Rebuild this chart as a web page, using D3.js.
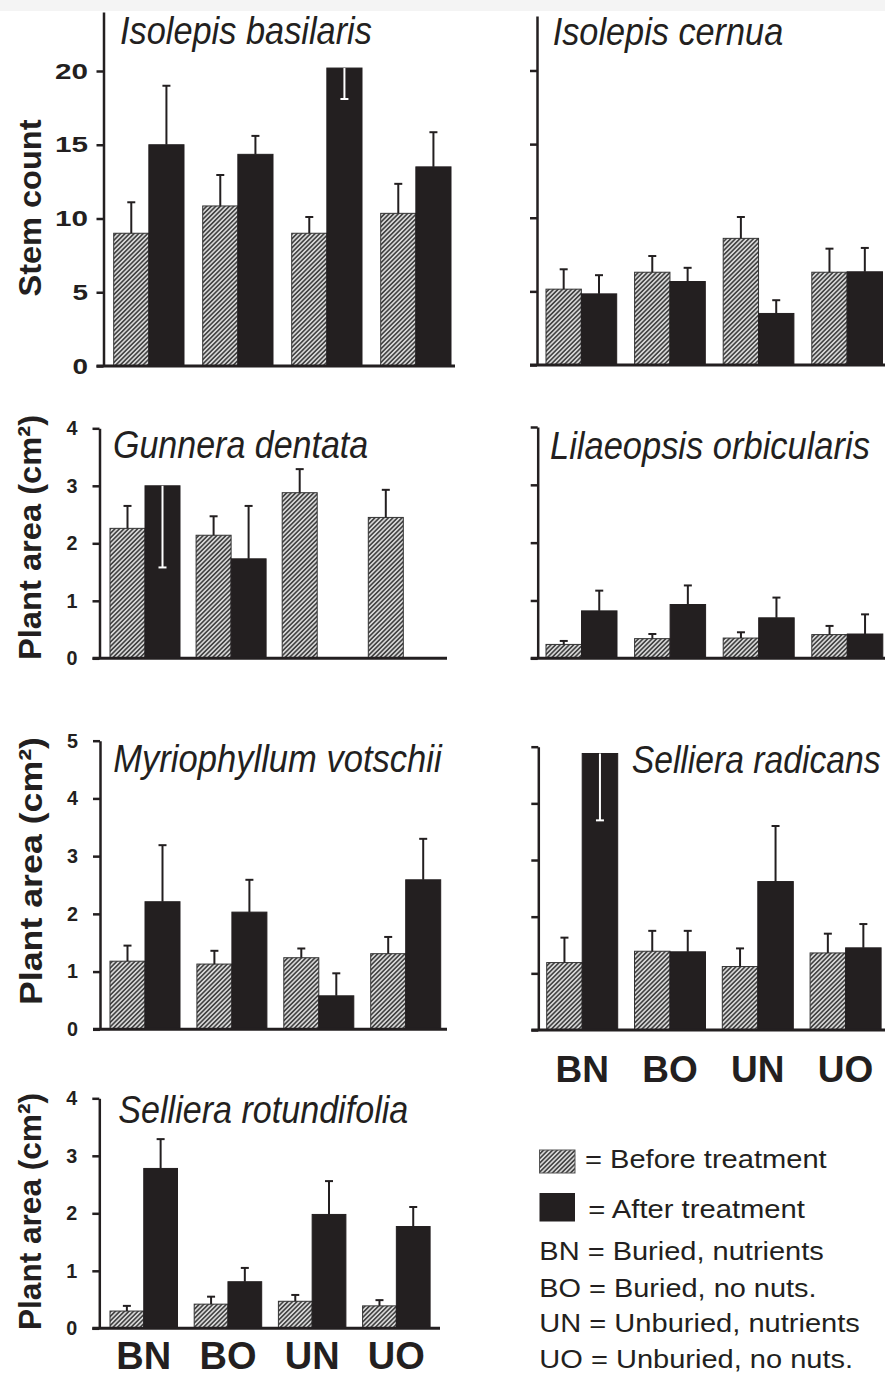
<!DOCTYPE html>
<html lang="en">
<head>
<meta charset="UTF-8">
<title>Stem count and plant area before and after treatment</title>
<script src="https://cdn.jsdelivr.net/npm/d3@7"></script>
<style>
  body { margin: 0; background: #fff; }
  svg { display: block; font-family: "Liberation Sans", Arial, sans-serif; }
</style>
</head>
<body>
<svg id="chart"></svg>
<script>
  // treatments on the x axis, two bars each
  const groups = ['BN', 'BO', 'UN', 'UO'];
  const series = ['before', 'after'];

  // means and standard errors
  const basilarisBefore   = [9.0, 10.85, 9.0, 10.35];
  const basilarisBeforeSE = [2.1, 2.1, 1.1, 2.0];
  const basilarisAfter    = [15.0, 14.35, 20.2, 13.5];
  const basilarisAfterSE  = [4.0, 1.25, 2.1, 2.35];

  const cernuaBefore   = [5.15, 6.3, 8.6, 6.3];
  const cernuaBeforeSE = [1.35, 1.1, 1.45, 1.6];
  const cernuaAfter    = [4.83, 5.67, 3.5, 6.33];
  const cernuaAfterSE  = [1.27, 0.93, 0.9, 1.62];

  const gunneraBefore   = [2.26, 2.14, 2.88, 2.45];
  const gunneraBeforeSE = [0.39, 0.33, 0.41, 0.48];
  const gunneraAfter    = [3.0, 1.73, null, null];
  const gunneraAfterSE  = [1.42, 0.92, null, null];

  const lilaeopsisBefore   = [0.24, 0.34, 0.35, 0.41];
  const lilaeopsisBeforeSE = [0.06, 0.08, 0.10, 0.15];
  const lilaeopsisAfter    = [0.82, 0.93, 0.70, 0.42];
  const lilaeopsisAfterSE  = [0.35, 0.33, 0.35, 0.34];

  const myrioBefore   = [1.18, 1.13, 1.24, 1.31];
  const myrioBeforeSE = [0.27, 0.23, 0.16, 0.29];
  const myrioAfter    = [2.21, 2.03, 0.58, 2.59];
  const myrioAfterSE  = [0.98, 0.56, 0.39, 0.71];

  const radicansBefore   = [1.19, 1.39, 1.12, 1.36];
  const radicansBeforeSE = [0.44, 0.36, 0.32, 0.34];
  const radicansAfter    = [4.88, 1.38, 2.62, 1.45];
  const radicansAfterSE  = [1.18, 0.37, 0.98, 0.42];

  const rotundBefore   = [0.30, 0.42, 0.47, 0.39];
  const rotundBeforeSE = [0.09, 0.13, 0.11, 0.10];
  const rotundAfter    = [2.78, 0.81, 1.98, 1.77];
  const rotundAfterSE  = [0.51, 0.24, 0.58, 0.34];

  const stemTicks = [0, 5, 10, 15, 20];
  const areaTicks4 = [0, 1, 2, 3, 4];
  const areaTicks5 = [0, 1, 2, 3, 4, 5];

  const legendLines = ['BN = Buried, nutrients', 'BO = Buried, no nuts.',
                       'UN = Unburied, nutrients', 'UO = Unburied, no nuts.'];

  const width = 885, height = 1378;
  const ink = '#231f20';

  // one entry per panel: data + where it sits on the page
  const panels = [
    { title: 'Isolepis basilaris', ylab: 'Stem count', ticks: stemTicks, labels: true, yMax: 24,
      vals: [basilarisBefore, basilarisAfter], se: [basilarisBeforeSE, basilarisAfterSE], down: 'UN',
      ax: 103.5, y0: 366, yTop: 12, bx0: 113.7, step: 89, bw: 70.3, xEnd: 455,
      tx: 120, ty: 43.5, tw: 252, yl: [41, 208, 177], lab: { pad: 8.5, fs: 22, dw: 17.5 } },
    { title: 'Isolepis cernua', ticks: stemTicks, labels: false, yMax: 23.7,
      vals: [cernuaBefore, cernuaAfter], se: [cernuaBeforeSE, cernuaAfterSE],
      ax: 537, y0: 365, yTop: 16, bx0: 546, step: 88.6, bw: 70.7, xEnd: 885,
      tx: 552.7, ty: 45, tw: 230.6 },
    { title: 'Gunnera dentata', ylab: 'Plant area (cm²)', ticks: areaTicks4, labels: true, yMax: 4,
      vals: [gunneraBefore, gunneraAfter], se: [gunneraBeforeSE, gunneraAfterSE], down: 'BN',
      ax: 99.5, y0: 658.3, yTop: 428.3, bx0: 110, step: 86.1, bw: 70, xEnd: 447,
      tx: 113, ty: 458.3, tw: 255.3, yl: [41, 537.5, 245], lab: { pad: 15, fs: 20, dw: 13 } },
    { title: 'Lilaeopsis orbicularis', ticks: areaTicks4, labels: false, yMax: 4,
      vals: [lilaeopsisBefore, lilaeopsisAfter], se: [lilaeopsisBeforeSE, lilaeopsisAfterSE],
      ax: 537.7, y0: 658.3, yTop: 427, bx0: 546, step: 88.6, bw: 71, xEnd: 885,
      tx: 550, ty: 459.3, tw: 320 },
    { title: 'Myriophyllum votschii', ylab: 'Plant area (cm²)', ticks: areaTicks5, labels: true, yMax: 5,
      vals: [myrioBefore, myrioAfter], se: [myrioBeforeSE, myrioAfterSE],
      ax: 100, y0: 1029.3, yTop: 740.7, bx0: 110, step: 86.9, bw: 70, xEnd: 447,
      tx: 113.3, ty: 771.7, tw: 328.4, yl: [42, 871, 268], lab: { pad: 15, fs: 20, dw: 13 } },
    { title: 'Selliera radicans', ticks: areaTicks5, labels: false, yMax: 5,
      vals: [radicansBefore, radicansAfter], se: [radicansBeforeSE, radicansAfterSE], down: 'BN',
      ax: 538.3, y0: 1030, yTop: 746.7, bx0: 546.7, step: 87.8, bw: 71, xEnd: 885,
      tx: 631.7, ty: 773.3, tw: 249, xlab: { pad: 25.7, fs: 37 } },
    { title: 'Selliera rotundifolia', ylab: 'Plant area (cm²)', ticks: areaTicks4, labels: true, yMax: 4,
      vals: [rotundBefore, rotundAfter], se: [rotundBeforeSE, rotundAfterSE],
      ax: 99.3, y0: 1328.3, yTop: 1098.3, bx0: 110, step: 84.2, bw: 67.5, xEnd: 440,
      tx: 118.3, ty: 1123.3, tw: 290, yl: [41, 1211.5, 237], lab: { pad: 15, fs: 20, dw: 13 },
      xlab: { pad: 14, fs: 38 } }
  ];

  const svg = d3.select('#chart').attr('width', width).attr('height', height);

  // squeeze/stretch a text horizontally so it spans w pixels from (x, y)
  function fitText(sel, x, y, w) {
    sel.each(function () {
      const natural = this.getComputedTextLength();
      d3.select(this).attr('transform', `translate(${x},${y}) scale(${w / natural},1)`);
    });
  }

  // faint scanned band at the very top
  svg.append('rect').attr('width', width).attr('height', 11).attr('fill', '#f4f4f4');

  // hatch used for "before" bars
  const pat = svg.append('defs').append('pattern')
      .attr('id', 'hatch')
      .attr('patternUnits', 'userSpaceOnUse')
      .attr('width', 3.2).attr('height', 3.2)
      .attr('patternTransform', 'rotate(45)');
  pat.append('rect').attr('width', 3.2).attr('height', 3.2).attr('fill', '#d6d6d6');
  pat.append('line').attr('x1', 0.8).attr('y1', 0).attr('x2', 0.8).attr('y2', 3.2)
      .attr('stroke', '#3a3a3a').attr('stroke-width', 1.5);

  panels.forEach(p => {
    const g = svg.append('g');

    const y = d3.scaleLinear().domain([0, p.yMax]).range([p.y0, p.yTop]);
    const x = d3.scaleBand().domain(groups)
        .range([p.bx0, p.bx0 + 3 * p.step + p.bw])
        .paddingInner(1 - p.bw / p.step).paddingOuter(0);
    const xs = d3.scaleBand().domain(series).range([0, x.bandwidth()]);

    // bars
    const rows = [];
    groups.forEach((grp, i) => {
      series.forEach((s, j) => {
        const v = p.vals[j][i];
        if (v == null) return;
        rows.push({ grp, s, v, se: p.se[j][i], down: s === 'after' && p.down === grp });
      });
    });

    g.selectAll('rect.bar').data(rows).enter().append('rect')
        .attr('class', 'bar')
        .attr('x', d => x(d.grp) + xs(d.s))
        .attr('width', xs.bandwidth())
        .attr('y', d => y(d.v))
        .attr('height', d => p.y0 - y(d.v))
        .attr('fill', d => d.s === 'before' ? 'url(#hatch)' : ink)
        .attr('stroke', d => d.s === 'before' ? '#333' : ink)
        .attr('stroke-width', 1);

    // error bars (white and pointing down when the bar runs off the top)
    const eb = g.selectAll('g.err').data(rows).enter().append('g')
        .attr('class', 'err')
        .attr('stroke', d => d.down ? '#fff' : ink)
        .attr('stroke-width', 2);
    const cx = d => x(d.grp) + xs(d.s) + xs.bandwidth() / 2;
    const tip = d => y(d.down ? d.v - d.se : d.v + d.se);
    eb.append('line')
        .attr('x1', cx).attr('x2', cx)
        .attr('y1', d => y(d.v)).attr('y2', tip);
    eb.append('line')
        .attr('x1', d => cx(d) - 4).attr('x2', d => cx(d) + 4)
        .attr('y1', tip).attr('y2', tip);

    // y axis
    const yAxis = d3.axisLeft(y).tickValues(p.ticks).tickSize(7).tickSizeOuter(0)
        .tickPadding(p.labels ? p.lab.pad : 3)
        .tickFormat(p.labels ? d3.format('d') : () => '');
    const ya = g.append('g').attr('transform', `translate(${p.ax},0)`).call(yAxis);
    ya.select('.domain').attr('stroke', ink).attr('stroke-width', 2.5);
    ya.selectAll('.tick line').attr('stroke', ink).attr('stroke-width', 2.5);
    if (p.labels) {
      ya.selectAll('.tick text')
          .attr('fill', ink)
          .style('font-size', p.lab.fs + 'px')
          .style('font-weight', 'bold')
          .style('font-family', '"Liberation Sans", Arial, sans-serif')
          .attr('textLength', d => String(d).length * p.lab.dw - 2)
          .attr('lengthAdjust', 'spacingAndGlyphs');
    }

    // baseline
    g.append('line')
        .attr('x1', p.ax - 7).attr('x2', p.xEnd)
        .attr('y1', p.y0).attr('y2', p.y0)
        .attr('stroke', ink).attr('stroke-width', 3);

    // group labels under the bottom panels
    if (p.xlab) {
      const xa = g.append('g').attr('transform', `translate(0,${p.y0})`)
          .call(d3.axisBottom(x).tickSize(0).tickPadding(p.xlab.pad));
      xa.select('.domain').remove();
      xa.selectAll('.tick text')
          .attr('fill', ink)
          .style('font-size', p.xlab.fs + 'px')
          .style('font-weight', 'bold')
          .style('font-family', '"Liberation Sans", Arial, sans-serif');
    }

    // species name, condensed to the width it has in the figure
    g.append('text')
        .style('font-size', '38px').style('font-style', 'italic')
        .attr('fill', ink)
        .text(p.title)
        .call(fitText, p.tx, p.ty, p.tw);

    // axis title
    if (p.ylab) {
      g.append('text')
          .attr('transform', `translate(${p.yl[0]},${p.yl[1]}) rotate(-90)`)
          .attr('text-anchor', 'middle')
          .attr('textLength', p.yl[2]).attr('lengthAdjust', 'spacingAndGlyphs')
          .style('font-size', '32px').style('font-weight', 'bold')
          .attr('fill', ink)
          .text(p.ylab);
    }
  });

  // legend
  const lg = svg.append('g');
  lg.append('rect').attr('x', 539.5).attr('y', 1150).attr('width', 35.5).attr('height', 23)
      .attr('fill', 'url(#hatch)').attr('stroke', '#555').attr('stroke-width', 1);
  lg.append('rect').attr('x', 539.5).attr('y', 1193).attr('width', 35.5).attr('height', 28.5)
      .attr('fill', ink);
  const legendText = [
    { t: '= Before treatment', x: 585, y: 1168.3, w: 241.7 },
    { t: '= After treatment', x: 588.3, y: 1217.7, w: 216.7 }
  ];
  const legendW = [284.7, 277.4, 320.7, 314];
  const legendY = [1260, 1296.7, 1331.7, 1368.3];
  legendLines.forEach((t, i) => legendText.push({ t, x: 539.3, y: legendY[i], w: legendW[i] }));
  lg.selectAll('text').data(legendText).enter().append('text')
      .style('font-size', '25.5px')
      .attr('fill', ink)
      .text(d => d.t)
      .each(function (d) { fitText(d3.select(this), d.x, d.y, d.w); });
</script>
</body>
</html>
